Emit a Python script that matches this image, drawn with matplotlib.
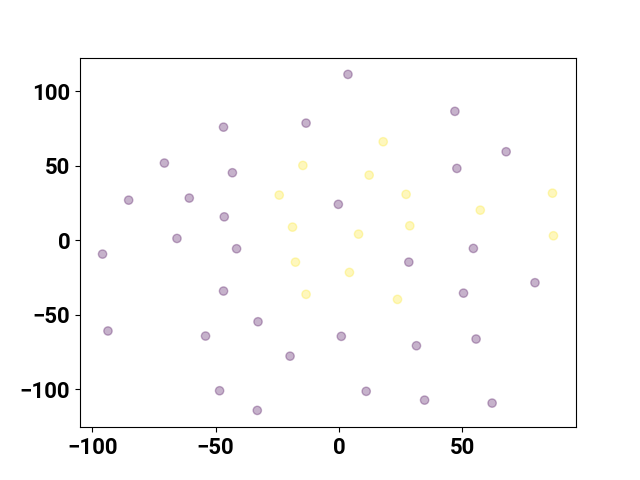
import numpy as np
import matplotlib
matplotlib.use("Agg")
import matplotlib.pyplot as plt

plt.rcParams["font.family"] = ["Roboto", "DejaVu Sans"]
plt.rcParams["font.weight"] = "bold"

# class 0 points (purple)
x0 = [-46.8, -13.3, -70.8, -43.2, -85.3, -60.7, -46.5, -65.7, 3.7, 47.1, 67.9, 47.9,
      -0.2, -95.9, -41.5, -46.8, -32.8, -93.7, -54.1, -19.8, -48.4, -33.1, 54.6, 28.4,
      79.6, 50.6, 1.0, 31.5, 55.7, 11.1, 34.8, 62.2]
y0 = [75.8, 78.5, 51.7, 45.2, 26.8, 28.2, 15.6, 1.1, 111.2, 86.4, 59.3, 48.1,
      24.0, -9.4, -5.8, -34.2, -54.8, -61.0, -64.4, -77.9, -101.1, -114.3, -5.6, -14.8,
      -28.6, -35.6, -64.6, -70.9, -66.4, -101.5, -107.4, -109.4]

# class 1 points (yellow)
x1 = [18.0, -14.6, 12.3, -24.2, 27.3, 86.7, 57.4, -18.8, 28.8, 8.0, 87.1, -17.6,
      4.3, -13.3, 23.8]
y1 = [66.0, 50.1, 43.6, 30.2, 30.7, 31.5, 20.1, 8.7, 9.6, 4.0, 2.9, -14.8,
      -21.7, -36.4, -39.8]

xs = np.array(x0 + x1)
ys = np.array(y0 + y1)
labels = np.array([0] * len(x0) + [1] * len(x1))

fig, ax = plt.subplots(figsize=(6.4, 4.8), dpi=100)
ax.scatter(xs, ys, c=labels, cmap="viridis", alpha=0.3)

ax.set_xticks([-100, -50, 0, 50])
ax.set_yticks([-100, -50, 0, 50, 100])
ax.tick_params(labelsize=16)
for lab in ax.get_xticklabels() + ax.get_yticklabels():
    lab.set_fontweight("bold")

plt.savefig("out.png", dpi=100)
